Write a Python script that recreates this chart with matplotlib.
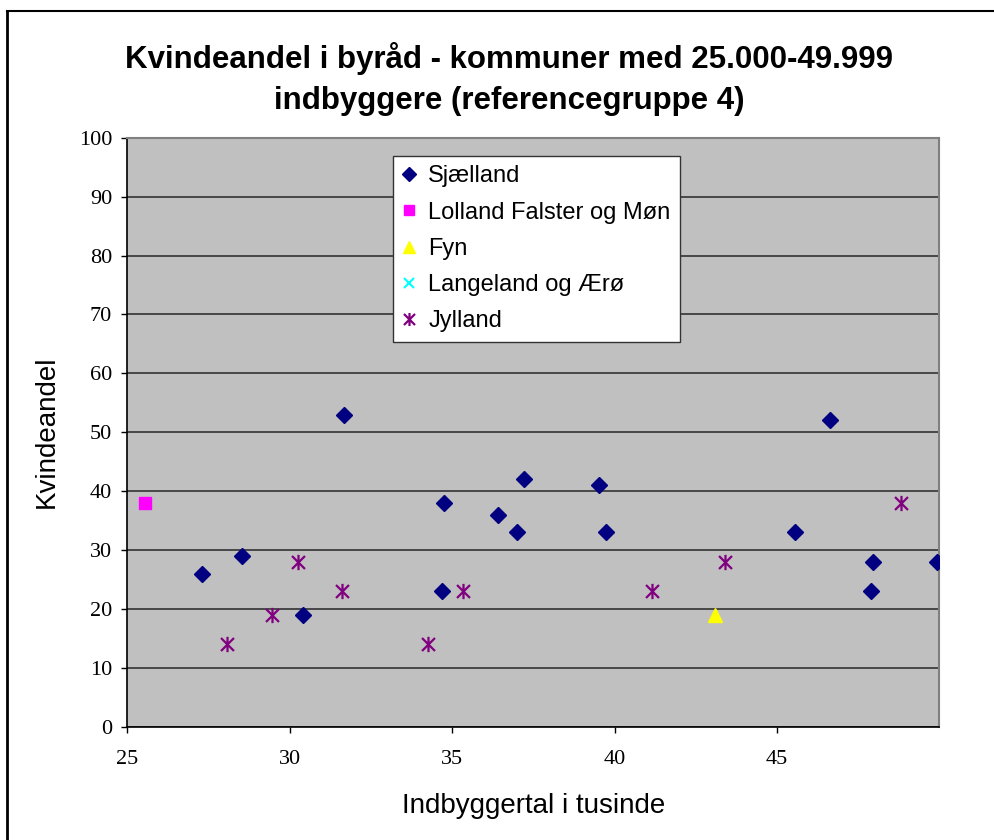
import matplotlib
matplotlib.use("Agg")
import matplotlib.pyplot as plt
from matplotlib.path import Path
from matplotlib.lines import Line2D

title = "Kvindeandel i byråd - kommuner med 25.000-49.999\nindbyggere (referencegruppe 4)"
xlabel = "Indbyggertal i tusinde"
ylabel = "Kvindeandel"

sjaelland_x = [27.29, 28.53, 30.42, 31.66, 34.69, 34.74, 36.40, 37.01, 37.20, 39.52, 39.73, 45.57, 46.62, 47.90, 47.95, 49.92]
sjaelland_y = [26, 29, 19, 53, 23, 38, 36, 33, 42, 41, 33, 33, 52, 23, 28, 28]
lolland_x = [25.55]
lolland_y = [38]
fyn_x = [43.1]
fyn_y = [19]
langeland_x = []
langeland_y = []
jylland_x = [28.08, 29.45, 30.25, 31.61, 34.25, 35.35, 41.14, 43.41, 48.83]
jylland_y = [14, 19, 28, 23, 14, 23, 23, 28, 38]

xticks = [25, 30, 35, 40, 45]
yticks = list(range(0, 101, 10))

star = Path([(0, -1), (0, 1), (-0.85, -0.85), (0.85, 0.85), (-0.85, 0.85), (0.85, -0.85)],
            [Path.MOVETO, Path.LINETO, Path.MOVETO, Path.LINETO, Path.MOVETO, Path.LINETO])

fig = plt.figure(figsize=(9.95, 8.4), dpi=100)
fig.patch.set_facecolor("white")
ax = fig.add_axes([0.128, 0.135, 0.816, 0.701])
ax.set_facecolor("#C0C0C0")

ax.plot(sjaelland_x, sjaelland_y, linestyle="none", marker="D", markersize=8,
        color="#000080", label="Sjælland", zorder=3)
ax.plot(lolland_x, lolland_y, linestyle="none", marker="s", markersize=8.5,
        color="#FF00FF", label="Lolland Falster og Møn", zorder=3)
ax.plot(fyn_x, fyn_y, linestyle="none", marker="^", markersize=10.5,
        color="#FFFF00", label="Fyn", zorder=3)
ax.plot(langeland_x, langeland_y, linestyle="none", marker="x", markersize=9,
        markeredgewidth=1.5, color="#00FFFF", label="Langeland og Ærø", zorder=3)
ax.plot(jylland_x, jylland_y, linestyle="none", marker=star, markersize=11,
        markeredgewidth=1.6, color="#800080", markerfacecolor="none", label="Jylland", zorder=3)

ax.set_xlim(25, 50)
ax.set_ylim(0, 100)
ax.set_xticks(xticks)
ax.set_yticks(yticks)
ax.yaxis.grid(True, color="#333333", linewidth=1.2)
ax.set_axisbelow(True)
for s in ["top", "right"]:
    ax.spines[s].set_color("#808080")
    ax.spines[s].set_linewidth(1.5)
for s in ["left", "bottom"]:
    ax.spines[s].set_color("black")
    ax.spines[s].set_linewidth(1.2)
ax.tick_params(direction="out", length=4, width=1, labelsize=16)
ax.tick_params(axis="y", pad=7)
ax.tick_params(axis="x", pad=13)
for lab in ax.get_xticklabels() + ax.get_yticklabels():
    lab.set_fontfamily("Liberation Serif")

ax.set_xlabel(xlabel, fontfamily="Liberation Sans", fontsize=20, labelpad=17)
ax.set_ylabel(ylabel, fontfamily="Liberation Sans", fontsize=20, labelpad=14)

fig.text(0.512, 0.906, title, ha="center", va="center", fontfamily="Liberation Sans",
         fontweight="bold", fontsize=22.5, linespacing=1.47)

leg = ax.legend(loc="upper left", bbox_to_anchor=(0.327, 0.969), frameon=True, fancybox=False,
                prop={"family": "Liberation Sans", "size": 17}, handlelength=0.6,
                handletextpad=0.5, labelspacing=0.6, borderpad=0.4, borderaxespad=0,
                framealpha=1, markerscale=0.85)
leg.get_frame().set_edgecolor("#333333")
leg.get_frame().set_facecolor("white")
leg.get_frame().set_linewidth(1.0)

W, H = 995, 840
fig.add_artist(Line2D([7.5 / W, 1.0], [1 - 11 / H, 1 - 11 / H], color="black", linewidth=1.5,
                      transform=fig.transFigure))
fig.add_artist(Line2D([7.5 / W, 7.5 / W], [0, 1 - 11 / H], color="black", linewidth=2,
                      transform=fig.transFigure))

fig.savefig("out.png", dpi=100)
